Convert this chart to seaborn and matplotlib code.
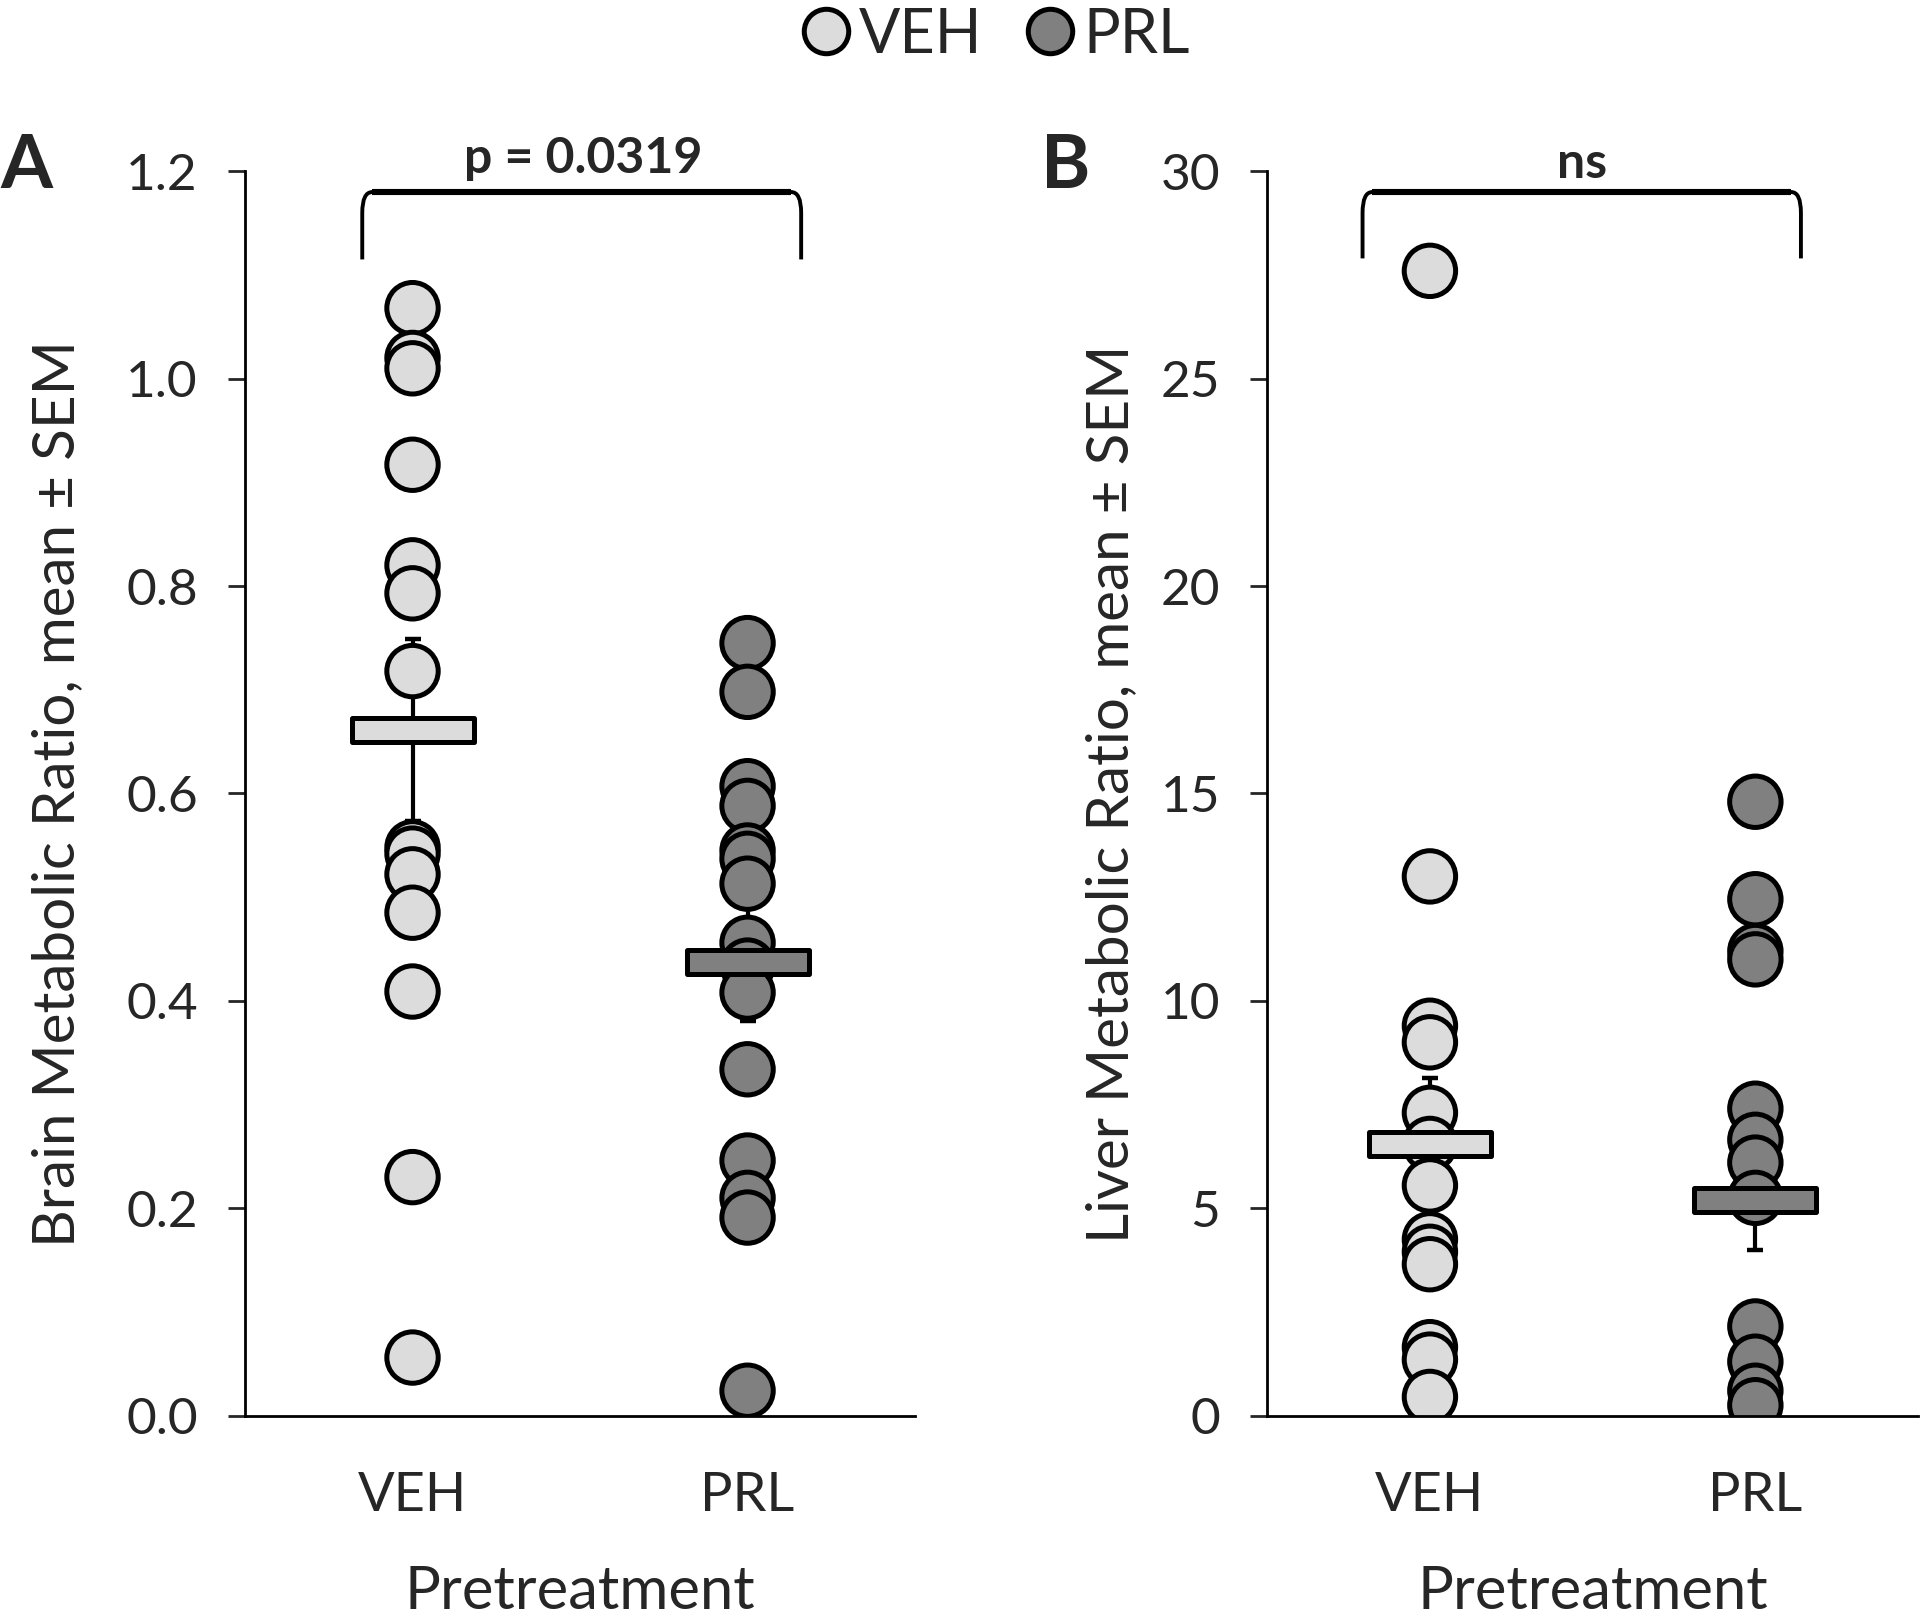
import numpy as np
import pandas as pd
import seaborn as sns
import matplotlib.pyplot as plt
from matplotlib.path import Path
from matplotlib.patches import PathPatch
from matplotlib.lines import Line2D

# Groups and fill colours
groups = ["VEH", "PRL"]
fills = {"VEH": "#dcdcdc", "PRL": "#808080"}

# Panel A: brain metabolic ratio, individual animals
brain_veh = [1.068, 1.020, 1.010, 0.917, 0.820, 0.793, 0.718,
             0.548, 0.542, 0.522, 0.485, 0.409, 0.230, 0.056]
brain_prl = [0.745, 0.698, 0.607, 0.588, 0.545, 0.537, 0.513,
             0.456, 0.434, 0.408, 0.334, 0.246, 0.210, 0.191, 0.024]
brain_mean = [0.661, 0.437]
brain_sem = [0.088, 0.056]

# Panel B: liver metabolic ratio
liver_veh = [27.6, 13.0, 9.4, 9.0, 7.3, 6.55, 5.55,
             4.25, 3.95, 3.65, 1.65, 1.35, 0.45]
liver_prl = [14.8, 12.45, 11.2, 11.0, 7.4, 6.65, 6.1,
             5.25, 2.15, 1.3, 0.6, 0.25]
liver_mean = [6.55, 5.2]
liver_sem = [1.6, 1.2]

sns.set_style("white")
plt.rcParams["font.family"] = ["Lato", "DejaVu Sans"]

fig = plt.figure(figsize=(9.6, 8.08), dpi=200)
axA = fig.add_axes([0.1276, 0.124, 0.349, 0.770])
axB = fig.add_axes([0.660, 0.124, 0.339, 0.770])

bar_marker = Path([(-1, -0.2), (1, -0.2), (1, 0.2), (-1, 0.2), (-1, -0.2)],
                  [Path.MOVETO, Path.LINETO, Path.LINETO, Path.LINETO, Path.CLOSEPOLY])


def long_form(veh, prl):
    return pd.DataFrame({"group": ["VEH"] * len(veh) + ["PRL"] * len(prl),
                         "value": list(veh) + list(prl)})


def bracket(ax, x0, x1, ytop, ybot, rx, ry):
    verts = [(x0, ybot), (x0, ytop - ry), (x0, ytop), (x0 + rx, ytop),
             (x1 - rx, ytop), (x1, ytop), (x1, ytop - ry), (x1, ybot)]
    codes = [Path.MOVETO, Path.LINETO, Path.CURVE3, Path.CURVE3,
             Path.LINETO, Path.CURVE3, Path.CURVE3, Path.LINETO]
    ax.add_patch(PathPatch(Path(verts, codes), fill=False, lw=1.4,
                           edgecolor="black", clip_on=False, zorder=5))
    ax.plot([x0 + rx, x1 - rx], [ytop, ytop], color="black", lw=2.2,
            solid_capstyle="butt", clip_on=False, zorder=5)


def panel(ax, veh, prl, mean, sem, ymax, ystep, fmt, ylabel, ypad):
    df = long_form(veh, prl)
    ax.errorbar([0, 1], mean, yerr=sem, fmt="none", ecolor="black",
                elinewidth=1.5, capsize=2.9, capthick=1.6, zorder=1.5)
    sns.stripplot(data=df, x="group", y="value", hue="group", order=groups,
                  palette=fills, jitter=False, size=18.5, linewidth=1.8,
                  edgecolor="black", legend=False, ax=ax, zorder=2)
    for i, g in enumerate(groups):
        ax.plot(i, mean[i], marker=bar_marker, markersize=44,
                markerfacecolor=fills[g], markeredgecolor="black",
                markeredgewidth=1.8, linestyle="none", zorder=3)
    ax.set_xlim(-0.5, 1.5)
    ax.set_ylim(0, ymax)
    ticks = np.arange(0, ymax + ystep / 2, ystep)
    ax.set_yticks(ticks)
    ax.set_yticklabels([fmt.format(t) for t in ticks])
    ax.set_xlabel("Pretreatment", fontsize=21.5, labelpad=16)
    ax.set_ylabel(ylabel, fontsize=21, labelpad=ypad)
    ax.tick_params(axis="y", direction="out", length=6, width=1,
                   labelsize=18.5, pad=11, left=True)
    ax.tick_params(axis="x", length=0, labelsize=19.5, pad=20)
    for s in ["top", "right"]:
        ax.spines[s].set_visible(False)
    for s in ["left", "bottom"]:
        ax.spines[s].set_color("black")
        ax.spines[s].set_linewidth(1.0)


panel(axA, brain_veh, brain_prl, brain_mean, brain_sem, 1.2, 0.2, "{:.1f}",
      "Brain Metabolic Ratio, mean \u00b1 SEM", 15)
panel(axB, liver_veh, liver_prl, liver_mean, liver_sem, 30, 5, "{:.0f}",
      "Liver Metabolic Ratio, mean \u00b1 SEM", 8)

bracket(axA, -0.15, 1.16, 1.180, 1.115, 0.03, 0.02)
axA.text(0.51, 1.212, "p = 0.0319", ha="center", va="center",
         fontsize=18, fontweight="bold", clip_on=False)
bracket(axB, -0.207, 1.14, 29.5, 27.9, 0.03, 0.5)
axB.text(0.468, 30.2, "ns", ha="center", va="center",
         fontsize=18, fontweight="bold", clip_on=False)

fig.text(0.014, 0.897, "A", fontsize=27, fontweight="bold", ha="center", va="center")
fig.text(0.555, 0.897, "B", fontsize=27, fontweight="bold", ha="center", va="center")

handles = [Line2D([], [], marker="o", linestyle="none", markersize=16,
                  markerfacecolor=fills[g], markeredgecolor="black",
                  markeredgewidth=1.8) for g in groups]
fig.legend(handles, groups, loc="upper center", bbox_to_anchor=(0.517, 1.03),
           ncol=2, frameon=False, fontsize=22, handletextpad=0.05,
           columnspacing=0.6, handlelength=1.0)

fig.savefig("out.png", dpi=200, facecolor="white")
